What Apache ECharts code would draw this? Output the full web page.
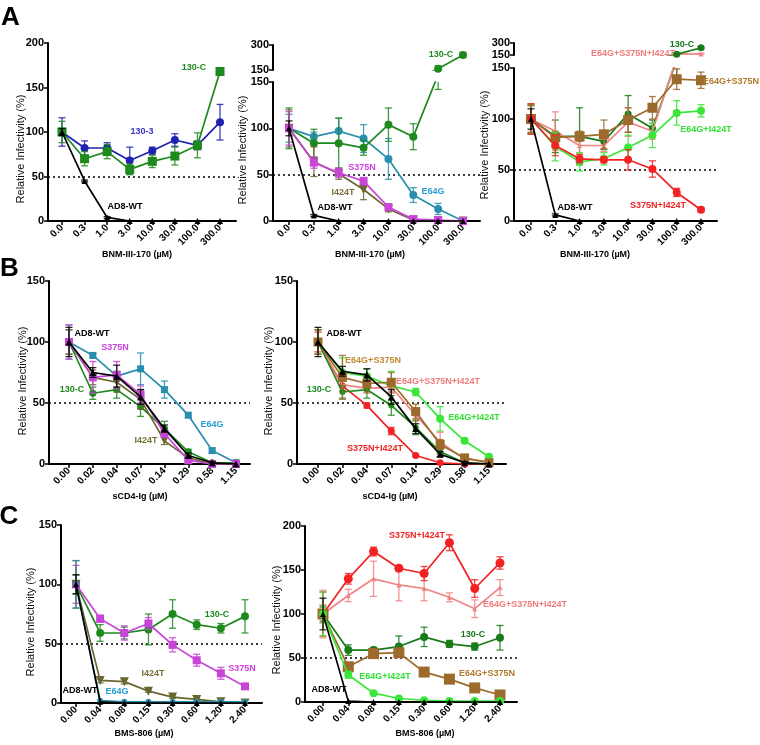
<!DOCTYPE html>
<html><head><meta charset="utf-8">
<script src="https://cdn.jsdelivr.net/npm/echarts@6/dist/echarts.min.js"></script>
<style>html,body{margin:0;padding:0;background:#fff}#c{width:760px;height:745px}</style>
</head><body><div id="c"></div>
<script>
// ---------- categories ----------
const catA = ['0.0','0.3','1.0','3.0','10.0','30.0','100.0','300.0'];
const catB = ['0.00','0.02','0.04','0.07','0.14','0.29','0.58','1.15'];
const catC = ['0.00','0.04','0.08','0.15','0.30','0.60','1.20','2.40'];
const titleA = 'BNM-III-170 (\u00b5M)';
const titleB = 'sCD4-Ig (\u00b5M)';
const titleC = 'BMS-806 (\u00b5M)';
const yTitle = 'Relative Infectivity (%)';

// ---------- Panel A1 ----------
const a1_AD8 = [100, 45, 4, 0, 0, 0, 0, 0];
const a1_AD8_err = [4, 1, 1, 0, 0, 0, 0, 0];
const a1_1303 = [100, 82, 82, 68, 79, 91, 85, 111];
const a1_1303_err = [16, 8, 6, 15, 4, 7, 5, 20];
const a1_130C = [100, 70, 78, 58, 67, 73, 85, 168];
const a1_130C_err = [12, 8, 8, 6, 7, 10, 14, 3];

// ---------- Panel A2 ----------
const a2_AD8 = [100, 6, 0, 0, 0, 0, 0, 0];
const a2_AD8_err = [8, 1, 0, 0, 0, 0, 0, 0];
const a2_S375N = [100, 63, 52, 43, 15, 2, 1, 0];
const a2_S375N_err = [18, 6, 5, 4, 3, 1, 1, 0];
const a2_I424T = [100, 64, 51, 34, 13, 1, 0, 0];
const a2_I424T_err = [20, 16, 6, 11, 3, 1, 0, 0];
const a2_E64G = [100, 91, 97, 89, 67, 28, 13, 0];
const a2_E64G_err = [15, 5, 14, 15, 22, 8, 6, 1];
const a2_130C = [100, 84, 84, 79, 104, 91, 158, 240];
const a2_130C_err = [22, 15, 27, 8, 18, 14, 16, 15];

// ---------- Panel A3 ----------
const a3_AD8 = [100, 6, 0, 0, 0, 0, 0, 0];
const a3_AD8_err = [10, 1, 0, 0, 0, 0, 0, 0];
const a3_130C = [100, 83, 83, 78, 105, 91, 158, 240];
const a3_130C_err = [13, 16, 28, 8, 18, 8, 16, 15];
const a3_ESI = [100, 88, 74, 74, 97, 88, 160, 163];
const a3_ESI_err = [14, 19, 8, 6, 14, 8, 10, 10];
const a3_ES = [100, 82, 83, 85, 99, 111, 139, 138];
const a3_ES_err = [14, 6, 5, 14, 12, 11, 10, 8];
const a3_EI = [100, 73, 58, 61, 72, 84, 106, 108];
const a3_EI_err = [15, 14, 9, 6, 12, 12, 12, 6];
const a3_SI = [100, 74, 61, 60, 60, 51, 28, 11];
const a3_SI_err = [15, 10, 4, 3, 10, 8, 4, 2];

// ---------- Panel B1 ----------
const b1_AD8 = [100, 75, 72, 55, 29, 7, 1, 0];
const b1_AD8_err = [12, 4, 9, 6, 3, 2, 1, 0];
const b1_S375N = [100, 71, 73, 57, 25, 3, 0, 0];
const b1_S375N_err = [14, 13, 11, 7, 3, 1, 0, 0];
const b1_I424T = [100, 71, 67, 53, 19, 5, 0, 0];
const b1_I424T_err = [10, 6, 8, 8, 3, 1, 0, 0];
const b1_130C = [100, 58, 61, 47, 29, 10, 1, 1];
const b1_130C_err = [10, 5, 7, 8, 6, 2, 1, 1];
const b1_E64G = [100, 89, 72, 78, 61, 40, 11, 1];
const b1_E64G_err = [14, 2, 4, 13, 7, 2, 2, 1];

// ---------- Panel B2 ----------
const b2_AD8 = [100, 76, 73, 55, 29, 8, 1, 0];
const b2_AD8_err = [12, 4, 5, 6, 4, 2, 1, 0];
const b2_ES = [100, 71, 66, 67, 43, 16, 5, 1];
const b2_ES_err = [10, 18, 7, 8, 6, 4, 1, 1];
const b2_ESI = [100, 65, 62, 63, 40, 18, 4, 2];
const b2_ESI_err = [8, 5, 4, 5, 5, 8, 2, 1];
const b2_EI = [100, 75, 72, 64, 59, 37, 19, 6];
const b2_EI_err = [10, 12, 6, 12, 3, 10, 2, 1];
const b2_130C = [100, 59, 61, 48, 30, 10, 1, 0];
const b2_130C_err = [10, 5, 7, 8, 6, 2, 1, 0];
const b2_SI = [100, 64, 48, 27, 7, 1, 0, 0];
const b2_SI_err = [8, 4, 2, 3, 1, 0, 0, 0];

// ---------- Panel C1 ----------
const c1_AD8 = [100, 1, 0, 0, 0, 0, 0, 0];
const c1_AD8_err = [8, 0, 0, 0, 0, 0, 0, 0];
const c1_E64G = [100, 2, 1, 1, 1, 1, 1, 1];
const c1_E64G_err = [20, 0, 0, 0, 0, 0, 0, 0];
const c1_I424T = [100, 19, 18, 10, 5, 3, 1, 0];
const c1_I424T_err = [20, 2, 2, 1, 1, 1, 1, 0];
const c1_S375N = [100, 71, 59, 67, 49, 36, 25, 14];
const c1_S375N_err = [16, 3, 6, 5, 6, 5, 5, 2];
const c1_130C = [100, 59, 59, 62, 75, 66, 63, 73];
const c1_130C_err = [8, 7, 5, 13, 12, 4, 4, 14];

// ---------- Panel C2 ----------
const c2_AD8 = [100, 1, 0, 0, 0, 0, 0, 0];
const c2_AD8_err = [18, 0, 0, 0, 0, 0, 0, 0];
const c2_SI = [100, 140, 171, 152, 146, 181, 129, 158];
const c2_SI_err = [25, 6, 5, 3, 8, 9, 10, 7];
const c2_ESI = [100, 121, 140, 133, 129, 119, 106, 130];
const c2_ESI_err = [27, 7, 20, 18, 14, 5, 10, 9];
const c2_130C = [100, 59, 59, 63, 74, 66, 63, 73];
const c2_130C_err = [8, 6, 3, 12, 11, 4, 4, 14];
const c2_ES = [100, 40, 55, 56, 34, 26, 16, 8];
const c2_ES_err = [10, 3, 3, 3, 2, 2, 4, 2];
const c2_EI = [100, 31, 10, 4, 2, 1, 1, 1];
const c2_EI_err = [25, 4, 2, 1, 0, 0, 0, 0];

// ---------- styles ----------
const FONT = '"Liberation Sans", Arial, Helvetica, sans-serif';
const COL = {
  wt: '#000000', c3: '#1f22b0', c130: '#1e8a1e', c130d: '#187a18', s375: '#c845d8',
  i424: '#6b6630', e64: '#2a8fae', es: '#9c6a2c', esi: '#f28383', ei: '#3ae63a', si: '#f22222'
};
function S(name, data, err, color, symbol, size, rot) {
  return { name, data, err, color, symbol, size, rot: rot || 0 };
}

const option = { animation: false, backgroundColor: '#ffffff', grid: [], xAxis: [], yAxis: [], series: [], graphic: [] };
const IDX = [0, 1, 2, 3, 4, 5, 6, 7];

function addGrid(L, yTop, yBot, ymin, ymax, interval, cats, showX) {
  const gi = option.grid.length;
  option.grid.push({ left: L.x0, top: yTop, width: L.x1 - L.x0, height: yBot - yTop, containLabel: false, outerBoundsMode: 'none' });
  const k = (L.c1 - L.c0) / 7;
  option.xAxis.push({
    type: 'value', gridIndex: gi, min: -(L.c0 - L.x0) / k, max: 7 + (L.x1 - L.c1) / k, show: showX,
    splitLine: { show: false },
    axisLine: { show: true, onZero: false, lineStyle: { color: '#000', width: 2 } },
    axisTick: { show: true, customValues: IDX, length: 4, lineStyle: { color: '#000', width: 1.5 } },
    axisLabel: { show: true, customValues: IDX, formatter: v => cats[Math.round(v)], rotate: 45, fontSize: 10,
      fontWeight: 'bold', color: '#000', fontFamily: FONT, margin: 5 }
  });
  option.yAxis.push({
    type: 'value', gridIndex: gi, min: ymin, max: ymax, interval: interval,
    splitLine: { show: false },
    axisLine: { show: true, onZero: false, lineStyle: { color: '#000', width: 2 } },
    axisTick: { show: true, length: 4, lineStyle: { color: '#000', width: 1.5 } },
    axisLabel: { fontSize: 11, fontWeight: 'bold', color: '#000', fontFamily: FONT, margin: 4 }
  });
  return gi;
}

function errRender(params, api) {
  const x = api.value(0), lo = api.value(1), hi = api.value(2);
  const a = api.coord([x, hi]), b = api.coord([x, lo]);
  const c = api.visual('color');
  const w = 3.5;
  const st = { stroke: c, lineWidth: 1.3, opacity: 0.85 };
  return { type: 'group', children: [
    { type: 'line', shape: { x1: a[0], y1: a[1], x2: b[0], y2: b[1] }, style: st },
    { type: 'line', shape: { x1: a[0] - w, y1: a[1], x2: a[0] + w, y2: a[1] }, style: st },
    { type: 'line', shape: { x1: b[0] - w, y1: b[1], x2: b[0] + w, y2: b[1] }, style: st }
  ] };
}

function addSeries(gi, s, z, withRef) {
  const line = {
    type: 'line', xAxisIndex: gi, yAxisIndex: gi, silent: true, clip: true, z: z,
    data: s.data.map((v, i) => [i, v]),
    symbol: s.symbol, symbolSize: s.size, symbolRotate: s.rot, showAllSymbol: true,
    itemStyle: { color: s.color }, lineStyle: { color: s.color, width: 1.7 }
  };
  if (withRef) {
    line.markLine = { silent: true, symbol: 'none', label: { show: false },
      lineStyle: { color: '#000', width: 1.5, type: [2, 3] }, data: [{ yAxis: 50 }] };
  }
  option.series.push(line);
  option.series.push({
    type: 'custom', xAxisIndex: gi, yAxisIndex: gi, silent: true, clip: true, z: z - 1,
    itemStyle: { color: s.color }, renderItem: errRender, encode: { x: 0, y: [1, 2] },
    data: s.data.map((v, i) => [i, v - s.err[i], v + s.err[i]]).filter((d, i) => s.err[i] > 0)
  });
}

function panel(L, cats, ymax, interval, list, upper) {
  const gi = addGrid(L, L.yTop, L.yBot, 0, ymax, interval, cats, true);
  list.forEach((s, j) => addSeries(gi, s, 10 + 2 * j, j === 0));
  if (upper) {
    const gu = addGrid(L, upper.yTop, upper.yBot, 150, 300, 150, cats, false);
    upper.list.forEach((s, j) => addSeries(gu, s, 10 + 2 * j, false));
  }
}

function txt(t, x, y, color, size, weight, rot) {
  option.graphic.push({ type: 'text', x: x, y: y, rotation: rot || 0, z: 100, silent: true,
    style: { text: t, fill: color, font: (weight || 'bold') + ' ' + (size || 9) + 'px ' + FONT,
      align: 'center', verticalAlign: 'middle', textAlign: 'center', textVerticalAlign: 'middle' } });
}

// ---------- layout (pixels) ----------
const LA1 = { x0: 48, x1: 236, c0: 62, c1: 220, yTop: 43, yBot: 221 };
const LA2 = { x0: 273, x1: 480, c0: 289, c1: 463, yTop: 82, yBot: 221 };
const LA3 = { x0: 514, x1: 717, c0: 531, c1: 701, yTop: 68, yBot: 221 };
const LB1 = { x0: 49, x1: 250, c0: 69, c1: 236, yTop: 281, yBot: 464 };
const LB2 = { x0: 297, x1: 506, c0: 318, c1: 489, yTop: 281, yBot: 464 };
const LC1 = { x0: 61, x1: 262, c0: 76, c1: 245, yTop: 525, yBot: 703 };
const LC2 = { x0: 305, x1: 517, c0: 323, c1: 500, yTop: 526, yBot: 702 };

// A1
panel(LA1, catA, 200, 50, [
  S('130-3', a1_1303, a1_1303_err, COL.c3, 'circle', 8),
  S('130-C', a1_130C, a1_130C_err, COL.c130, 'rect', 9),
  S('AD8-WT', a1_AD8, a1_AD8_err, COL.wt, 'triangle', 6)
]);
// A2
const a2c = S('130-C', a2_130C, a2_130C_err, COL.c130, 'circle', 8);
panel(LA2, catA, 150, 50, [
  S('E64G', a2_E64G, a2_E64G_err, COL.e64, 'circle', 8),
  a2c,
  S('I424T', a2_I424T, a2_I424T_err, COL.i424, 'triangle', 9, 180),
  S('S375N', a2_S375N, a2_S375N_err, COL.s375, 'rect', 8),
  S('AD8-WT', a2_AD8, a2_AD8_err, COL.wt, 'triangle', 6)
], { yTop: 45, yBot: 70, list: [a2c] });
// A3
const a3c = S('130-C', a3_130C, a3_130C_err, COL.c130d, 'circle', 7);
const a3t = S('E64G+S375N+I424T', a3_ESI, a3_ESI_err, COL.esi, 'triangle', 5);
panel(LA3, catA, 150, 50, [
  a3c, a3t,
  S('E64G+S375N', a3_ES, a3_ES_err, COL.es, 'rect', 10),
  S('E64G+I424T', a3_EI, a3_EI_err, COL.ei, 'circle', 8),
  S('S375N+I424T', a3_SI, a3_SI_err, COL.si, 'circle', 8),
  S('AD8-WT', a3_AD8, a3_AD8_err, COL.wt, 'triangle', 6)
], { yTop: 43, yBot: 55, list: [a3t, a3c] });
// B1
panel(LB1, catB, 150, 50, [
  S('E64G', b1_E64G, b1_E64G_err, COL.e64, 'rect', 7),
  S('130-C', b1_130C, b1_130C_err, COL.c130, 'circle', 7),
  S('I424T', b1_I424T, b1_I424T_err, COL.i424, 'triangle', 8, 180),
  S('S375N', b1_S375N, b1_S375N_err, COL.s375, 'rect', 8),
  S('AD8-WT', b1_AD8, b1_AD8_err, COL.wt, 'triangle', 7)
]);
// B2
panel(LB2, catB, 150, 50, [
  S('E64G+I424T', b2_EI, b2_EI_err, COL.ei, 'circle', 8),
  S('S375N+I424T', b2_SI, b2_SI_err, COL.si, 'circle', 7),
  S('E64G+S375N+I424T', b2_ESI, b2_ESI_err, COL.esi, 'triangle', 5),
  S('130-C', b2_130C, b2_130C_err, COL.c130, 'circle', 6),
  S('E64G+S375N', b2_ES, b2_ES_err, COL.es, 'rect', 9),
  S('AD8-WT', b2_AD8, b2_AD8_err, COL.wt, 'triangle', 7)
]);
// C1
panel(LC1, catC, 150, 50, [
  S('130-C', c1_130C, c1_130C_err, COL.c130, 'circle', 8),
  S('S375N', c1_S375N, c1_S375N_err, COL.s375, 'rect', 8),
  S('I424T', c1_I424T, c1_I424T_err, COL.i424, 'triangle', 9, 180),
  S('E64G', c1_E64G, c1_E64G_err, COL.e64, 'circle', 6),
  S('AD8-WT', c1_AD8, c1_AD8_err, COL.wt, 'triangle', 6)
]);
// C2
panel(LC2, catC, 200, 50, [
  S('E64G+S375N+I424T', c2_ESI, c2_ESI_err, COL.esi, 'triangle', 5),
  S('S375N+I424T', c2_SI, c2_SI_err, COL.si, 'circle', 9),
  S('130-C', c2_130C, c2_130C_err, COL.c130d, 'circle', 8),
  S('E64G+S375N', c2_ES, c2_ES_err, COL.es, 'rect', 11),
  S('E64G+I424T', c2_EI, c2_EI_err, COL.ei, 'circle', 8),
  S('AD8-WT', c2_AD8, c2_AD8_err, COL.wt, 'triangle', 6)
]);

// ---------- texts ----------
txt('A', 10.5, 17.5, '#000', 26, 'bold');
txt('B', 9.5, 268.5, '#000', 26, 'bold');
txt('C', 9, 516.5, '#000', 26, 'bold');

[[21, 149], [243, 150], [485, 145], [23, 381], [269, 381], [31, 622], [277, 620]].forEach(p =>
  txt(yTitle, p[0], p[1], '#111', 11, 'normal', Math.PI / 2));

txt(titleA, 137, 255, '#000', 9); txt(titleA, 370, 255, '#000', 9); txt(titleA, 595, 255, '#000', 9);
txt(titleB, 140, 497, '#000', 9); txt(titleB, 390, 497, '#000', 9);
txt(titleC, 144, 734, '#000', 9); txt(titleC, 425, 734, '#000', 9);

// A1 labels
txt('130-C', 194, 68, COL.c130); txt('130-3', 142, 132, '#3535c8'); txt('AD8-WT', 125, 207, '#000');
// A2 labels
txt('130-C', 441, 55, COL.c130); txt('S375N', 362, 168, '#d040e0'); txt('I424T', 343, 193, '#77723a');
txt('E64G', 433, 192, '#2a9fd6'); txt('AD8-WT', 335, 208, '#000');
// A3 labels
txt('130-C', 682, 45, COL.c130d); txt('E64G+S375N+I424T', 633, 54, '#f07c7c');
txt('E64G+S375N', 731, 82, '#b07a2c'); txt('E64G+I424T', 706, 130, '#33e033');
txt('S375N+I424T', 658, 206, '#f02424'); txt('AD8-WT', 575, 208, '#000');
// B1 labels
txt('AD8-WT', 92, 334, '#000'); txt('S375N', 115, 348, '#d040e0'); txt('130-C', 72, 390, COL.c130);
txt('E64G', 212, 425, '#2a9fd6'); txt('I424T', 146, 441, '#77723a');
// B2 labels
txt('AD8-WT', 344, 334, '#000'); txt('E64G+S375N', 373, 361, '#c08a30'); txt('130-C', 319, 390, COL.c130);
txt('E64G+S375N+I424T', 438, 382, '#f07c7c'); txt('E64G+I424T', 474, 418, '#33e033');
txt('S375N+I424T', 375, 449, '#f02424');
// C1 labels
txt('130-C', 217, 615, COL.c130); txt('S375N', 242, 669, '#d040e0'); txt('I424T', 153, 674, '#77723a');
txt('AD8-WT', 80, 691, '#000'); txt('E64G', 117, 692, '#2a9fd6');
// C2 labels
txt('S375N+I424T', 417, 536, '#f02424'); txt('E64G+S375N+I424T', 525, 605, '#f07c7c');
txt('130-C', 473, 635, COL.c130d); txt('E64G+S375N', 487, 674, '#b07a2c');
txt('E64G+I424T', 385, 677, '#33e033'); txt('AD8-WT', 329, 690, '#000');

const chart = echarts.init(document.getElementById('c'), null, { renderer: 'canvas', width: 760, height: 745 });
chart.setOption(option);
</script></body></html>
